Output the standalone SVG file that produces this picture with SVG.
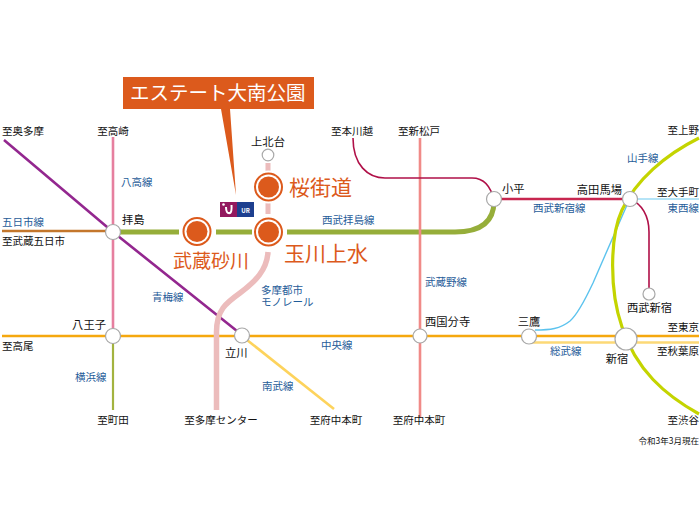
<svg xmlns="http://www.w3.org/2000/svg" width="700" height="525" viewBox="0 0 700 525">
<style>
text{font-family:"Noto Sans CJK JP","Noto Sans",sans-serif;font-size:10.5px;fill:#111}
.s{font-size:11.300px}
.b{fill:#1f5c99}
.o{fill:#dc5a1c;font-size:21px}
.l{fill:none;stroke-linecap:butt}
.st{fill:#fff;stroke:#a8a8a8;stroke-width:1.2}
.big{fill:#dc5a1c;stroke:#fff;stroke-width:2}
.e{text-anchor:end}.m{text-anchor:middle}
</style>
<rect width="700" height="525" fill="#fff"/>
<g id="connectors">
<path class="l" d="M113 137V340" stroke="#e67f9f" stroke-width="2.600"/>
<path class="l" d="M113 340V410" stroke="#a3b33f" stroke-width="2.200"/>
<path class="l" d="M4 140L113 232L242 335" stroke="#93278f" stroke-width="2.600"/>
<path class="l" d="M2 231H113" stroke="#c4772c" stroke-width="2.400"/>
<path class="l" d="M113 232H179M216 232H252M287 232H455Q494 232 494 201" stroke="#96ae3a" stroke-width="5"/>
<path class="l" d="M420 138V418" stroke="#f08a88" stroke-width="2.600"/>
<path class="l" d="M353 138C353 165 368 178 385 178H472C484 178 491 186 494 201" stroke="#b01048" stroke-width="1.600"/>
<path class="l" d="M494 199H630" stroke="#c7264f" stroke-width="2.400"/>
<path class="l" d="M630 199C642 204 649 216 649 232V294" stroke="#b01048" stroke-width="1.600"/>
<path class="l" d="M630 199H699" stroke="#6ccaf0" stroke-width="1.200"/>
<path class="l" d="M627 205L593 283C585 300 578 314 570 321C560 329 550 330 535 330" stroke="#5cc3ee" stroke-width="1.400"/>
<path class="l" d="M699 138C665 155 636 180 622 210C610 236 609 290 622 327C636 370 665 395 699 414" stroke="#c4d400" stroke-width="3.200"/>
<path class="l" d="M2 336H699" stroke="#f5a80f" stroke-width="2.600"/>
<path class="l" d="M529 342.500H699" stroke="#fcd976" stroke-width="2.600"/>
<path class="l" d="M242 336L334 409" stroke="#fdd35c" stroke-width="2.600"/>
<path class="l" d="M268 163V172M268 202V214" stroke="#ecbcbc" stroke-width="5"/>
<path class="l" d="M268 252C267 270 255 282 240 293C226 303 216.500 310 216.500 332V410" stroke="#ecbcbc" stroke-width="5.500"/>
</g>
<g id="callout">
<path d="M123 77H314V109H230L236 195L221 109H123Z" fill="#dc5a1c"/>
<text x="130" y="100" style="fill:#fff;font-size:19.500px">エステート大南公園</text>
</g>
<g id="ur-logo">
<rect x="220" y="202" width="17" height="15" fill="#93195f"/>
<rect x="237" y="202" width="17" height="15" fill="#1d3f8f"/>
<path d="M226 207Q226 214 230 213Q232 212 231.500 205" fill="none" stroke="#fff" stroke-width="2"/>
<circle cx="223.500" cy="204.500" r="1.300" fill="#fff"/>
<text x="245.500" y="212.500" class="m" style="fill:#fff;font-size:6px;font-weight:700">UR</text>
</g>
<g id="haijima"><circle class="st" cx="113" cy="232" r="7.500"/><text x="122" y="224" class="s">拝島</text></g>
<g id="kamikitadai"><circle class="st" cx="268" cy="155" r="5.800"/><text x="268" y="146" class="m s">上北台</text></g>
<g id="sakuragaido"><circle cx="268.500" cy="187" r="15.500" class="big"/><circle cx="268.500" cy="187" r="12.500" fill="#fff"/><circle cx="268.500" cy="187" r="10.500" fill="#dc5a1c"/><text x="289" y="195" class="o">桜街道</text></g>
<g id="tamagawajosui"><circle cx="268.500" cy="232" r="15.500" class="big"/><circle cx="268.500" cy="232" r="12.500" fill="#fff"/><circle cx="268.500" cy="232" r="10.500" fill="#dc5a1c"/><text x="284" y="261" class="o">玉川上水</text></g>
<g id="musashisunagawa"><circle cx="197" cy="231.500" r="15.500" class="big"/><circle cx="197" cy="231.500" r="12.500" fill="#fff"/><circle cx="197" cy="231.500" r="10.500" fill="#dc5a1c"/><text x="173" y="268" class="o" style="font-size:19px">武蔵砂川</text></g>
<g id="kodaira"><circle class="st" cx="494" cy="199" r="7.500"/><text x="502" y="193" class="s">小平</text></g>
<g id="takadanobaba"><circle class="st" cx="630" cy="199" r="7.500"/><text x="622" y="194" class="e s">高田馬場</text></g>
<g id="seibushinjuku"><circle class="st" cx="649" cy="294" r="6"/><text x="649.500" y="312" class="m s">西武新宿</text></g>
<g id="hachioji"><circle class="st" cx="113" cy="336" r="7.500"/><text x="106" y="329" class="e s">八王子</text></g>
<g id="tachikawa"><circle class="st" cx="242" cy="335.500" r="7.500"/><text x="225" y="357" class="s">立川</text></g>
<g id="kokubunji"><circle class="st" cx="420" cy="336" r="7"/><text x="425" y="326" class="s">西国分寺</text></g>
<g id="mitaka"><circle class="st" cx="529" cy="336.500" r="7.500"/><text x="529" y="326" class="m s">三鷹</text></g>
<g id="shinjuku"><circle class="st" cx="626" cy="339" r="11"/><text x="617" y="363" class="m s">新宿</text></g>
<g id="labels">
<text x="2" y="135">至奥多摩</text>
<text x="113" y="135" class="m">至高崎</text>
<text x="352" y="135" class="m">至本川越</text>
<text x="419" y="135" class="m">至新松戸</text>
<text x="699" y="134" class="e">至上野</text>
<text x="699" y="196" class="e">至大手町</text>
<text x="699" y="331" class="e">至東京</text>
<text x="699" y="355" class="e">至秋葉原</text>
<text x="699" y="424" class="e">至渋谷</text>
<text x="2" y="245">至武蔵五日市</text>
<text x="2" y="350">至高尾</text>
<text x="113" y="424" class="m">至町田</text>
<text x="221" y="424" class="m">至多摩センター</text>
<text x="336" y="424" class="m">至府中本町</text>
<text x="419" y="424" class="m">至府中本町</text>
<text x="699" y="444" class="e" style="font-size:8.500px">令和3年3月現在</text>
<text x="121" y="186" class="b">八高線</text>
<text x="2" y="226" class="b">五日市線</text>
<text x="322" y="224" class="b">西武拝島線</text>
<text x="152" y="301" class="b">青梅線</text>
<text class="b"><tspan x="261" y="294">多摩都市</tspan><tspan x="261" y="306">モノレール</tspan></text>
<text x="425" y="286" class="b">武蔵野線</text>
<text x="321" y="349" class="b">中央線</text>
<text x="262" y="390" class="b">南武線</text>
<text x="75" y="381" class="b">横浜線</text>
<text x="533" y="212" class="b">西武新宿線</text>
<text x="627" y="162" class="b">山手線</text>
<text x="699" y="212" class="e b">東西線</text>
<text x="550" y="355" class="b">総武線</text>
</g>
</svg>
